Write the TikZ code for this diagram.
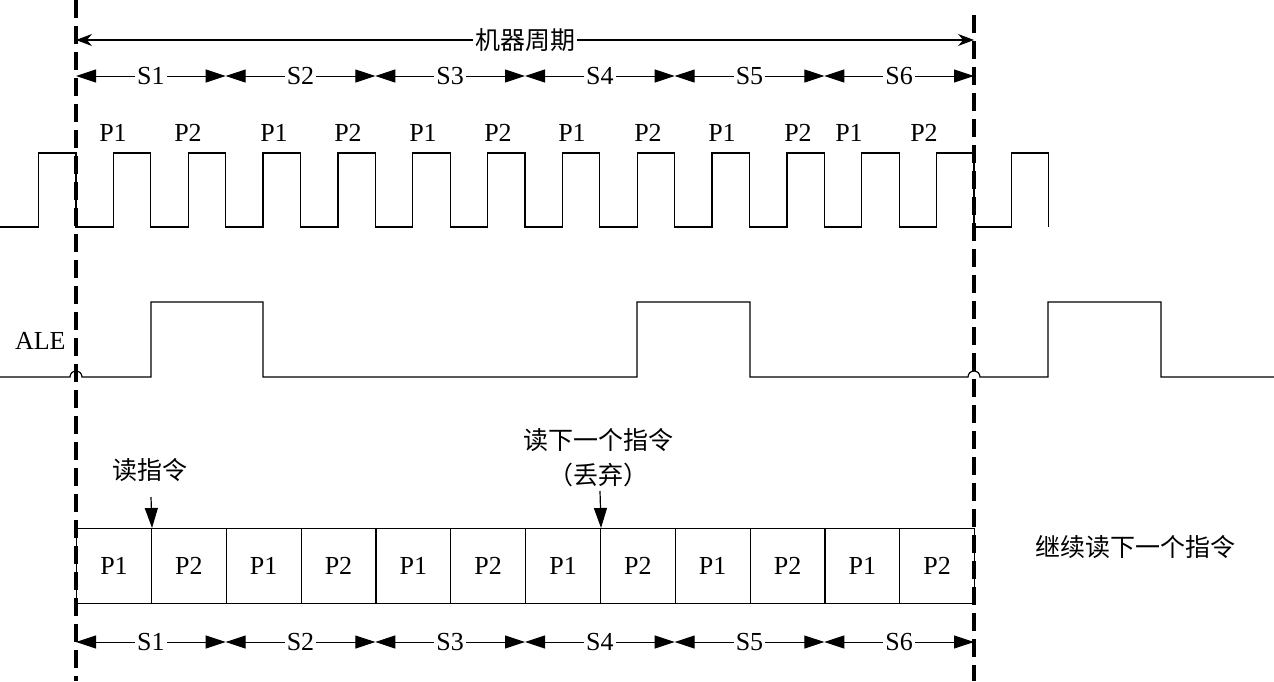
\documentclass[tikz,border=0pt]{standalone}
\usepackage{fontspec}
\setmainfont{Liberation Serif}
\newfontfamily\cjk{Noto Sans CJK SC}
\usetikzlibrary{arrows.meta}
\begin{document}
\begin{tikzpicture}[x=0.5pt,y=-0.5pt,
  every node/.style={font=\fontsize{13}{15}\selectfont, inner sep=1pt},
  wave/.style={line width=0.6pt},
  dashline/.style={line width=2pt, dash pattern=on 9pt off 4pt},
  seg/.style={line width=0.5pt, {Triangle[length=10pt,width=6.5pt]}-{Triangle[length=10pt,width=6.5pt]}},
  mach/.style={line width=0.6pt, {Stealth[length=8pt,width=6pt]}-{Stealth[length=8pt,width=6pt]}},
  ptr/.style={line width=0.6pt, -{Triangle[length=10pt,width=6.5pt]}},
  lab/.style={fill=white, inner sep=1pt},
  cell/.style={draw, line width=0.6pt, minimum width=37.42pt, minimum height=37.5pt, inner sep=0pt, anchor=north west},
  cn/.style={font=\cjk\fontsize{12.5}{15}\selectfont}
]
\useasboundingbox (0,0) rectangle (1274,681);
\def\P{74.833}
\def\S{149.667}
% clock waveform
\draw[wave] (0,227) -- (38.6,227) -- (38.6,153) -- (76,153) -- (76,227)
  \foreach \i in {0,...,12} {
    -- ({76+(\i+0.5)*\P},227) -- ({76+(\i+0.5)*\P},153)
    -- ({76+(\i+1)*\P},153) -- ({76+(\i+1)*\P},227) };
% P labels over clock
\foreach \x/\t [count=\k] in {113/P1,188/P2,274/P1,348/P2,423/P1,498/P2,572/P1,648/P2,722/P1,798/P2,849/P1,924/P2}
  \node (pl\k) at (\x,133) {\t};
% ALE waveform
\node[anchor=east] (ale) at (68,341) {ALE};
\draw[wave] (0,377) -- (70,377) arc (180:360:6) -- (151,377) -- (151,302) -- (263,302) -- (263,377)
  -- (637,377) -- (637,302) -- (750,302) -- (750,377) -- (968,377) arc (180:360:6)
  -- (1048,377) -- (1048,302) -- (1161,302) -- (1161,377) -- (1274,377);
% machine cycle arrow
\coordinate (mL) at (76,40);
\coordinate (mR) at (974,40);
\draw[mach] (mL) -- (mR) node[midway, lab, cn] (mc) {机器周期};
% S rows
\foreach \i in {0,...,5} {
  \pgfmathtruncatemacro{\n}{\i+1}
  \coordinate (ta\i) at ({76+\i*\S},76);
  \coordinate (tb\i) at ({76+(\i+1)*\S},76);
  \draw[seg] (ta\i) -- (tb\i) node[midway, lab] (st\i) {S\n};
  \coordinate (ba\i) at ({76+\i*\S},642);
  \coordinate (bb\i) at ({76+(\i+1)*\S},642);
  \draw[seg] (ba\i) -- (bb\i) node[midway, lab] (sb\i) {S\n};
}
% cells
\foreach \i in {0,...,11} {
  \pgfmathtruncatemacro{\pp}{mod(\i,2)+1}
  \node[cell] (c\i) at ({76+\i*\P},528) {P\pp};
}
% pointers
\node[cn] (rd) at (150,470) {读指令};
\coordinate (rdt) at (151,497);
\draw[ptr] (rdt) -- (c0.north east);
\node[cn] (rn) at (598,440) {读下一个指令};
\node[cn] (rq) at (598,475) {（丢弃）};
\coordinate (rnt) at (600,491);
\draw[ptr] (rnt) -- (c6.north east);
\node[cn] (cont) at (1135,547) {继续读下一个指令};
% dashed boundaries
\draw[dashline] (76,0) -- (76,681);
\draw[dashline] (974,15) -- (974,681);
\end{tikzpicture}
\end{document}
